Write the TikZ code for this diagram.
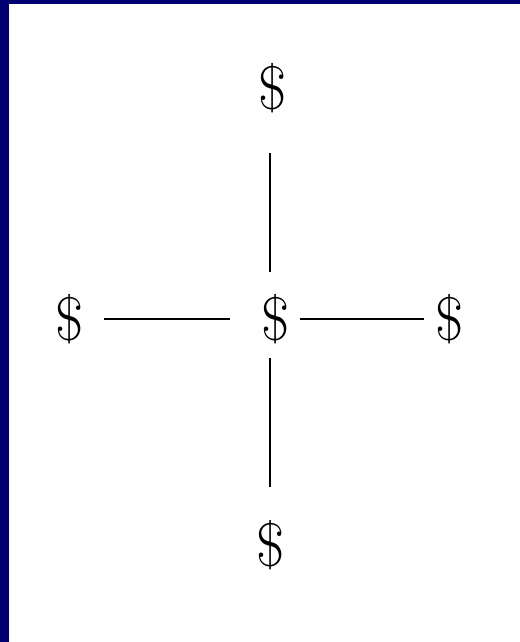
\documentclass[tikz,border=0pt]{standalone}
\usepackage{tikz}
\usetikzlibrary{positioning}

\definecolor{frameblue}{RGB}{0,0,112}

\begin{document}
\begin{tikzpicture}[
    x=0.02cm, y=-0.02cm,
    dollar/.style={inner sep=0pt, font=\fontsize{35}{40}\selectfont},
    link/.style={line width=1.3pt, black}
  ]

  % frame and page
  \fill[frameblue] (0,0) rectangle (520,642);
  \fill[white] (9,4) rectangle (520,642);
  \useasboundingbox (0,0) rectangle (520,642);

  \node[dollar] (centre) at (276,319) {\$};
  \node[dollar] (top) at (273,88) {\$};
  \node[dollar] (bottom) at (271,545) {\$};
  \node[dollar] (left) at (70,319) {\$};
  \node[dollar] (right) at (450,319) {\$};

  \draw[link, shorten <=0.8cm, shorten >=0.44cm] (top.south -| 270,0) -- (centre.north -| 270,0);
  \draw[link, shorten <=0.28cm, shorten >=0.66cm] (centre.south -| 270,0) -- (bottom.north -| 270,0);
  \draw[link, shorten <=0.4cm, shorten >=0.64cm] (left) -- (centre);
  \draw[link, shorten <=0.2cm, shorten >=0.24cm] (centre) -- (right);

\end{tikzpicture}
\end{document}
